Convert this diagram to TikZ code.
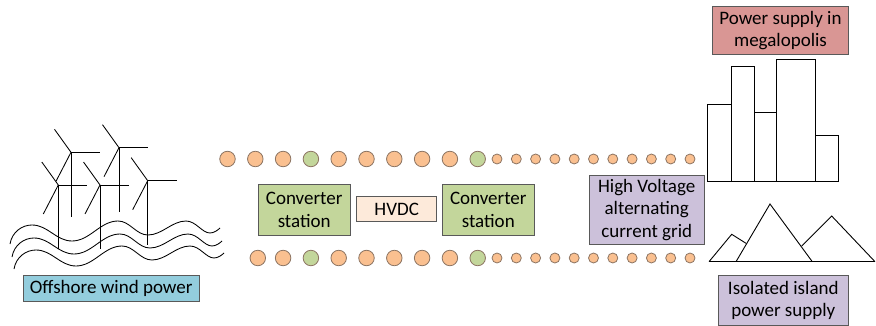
\documentclass[tikz,border=0pt]{standalone}
\usepackage{fontspec}
\setmainfont{Carlito}
\definecolor{aquabox}{HTML}{93CDDD}
\definecolor{olivebox}{HTML}{C3D69B}
\definecolor{peachbox}{HTML}{FDEADA}
\definecolor{lilacbox}{HTML}{CCC1DA}
\definecolor{rosebox}{HTML}{D99694}
\definecolor{dotorange}{HTML}{FAC090}
\definecolor{dotrim}{HTML}{8C7462}
\definecolor{boxrim}{HTML}{595959}
\tikzset{
  label box/.style={draw=boxrim, line width=0.9pt, inner sep=0pt, align=center,
    font=\fontsize{19}{22.5}\selectfont},
  dc dot/.style={circle, draw=dotrim, line width=0.8pt, fill=dotorange, minimum size=15.5pt, inner sep=0pt},
  station dot/.style={dc dot, fill=olivebox},
  ac dot/.style={dc dot, minimum size=10pt},
  sketch/.style={line width=0.85pt, black},
  outline/.style={line width=0.9pt, black},
}
% wind turbine: hub position and lower end of the tower
\newcommand{\windturbine}[3]{%
  \draw[sketch] (#1,#2) -- ++(-16.5,-23);
  \draw[sketch] (#1,#2) -- ++(29,0);
  \draw[sketch] (#1,#2) -- ++(-15,29);
  \draw[sketch] (#1,#2) -- (#1,#3);
}
% one sea wave, shifted by (#1,#2)
\newcommand{\seawave}[2]{%
  \draw[sketch, shift={(#1,#2)}]
    (10,244) .. controls (12,232) and (22,225) .. (32,225)
    .. controls (48,225) and (56,241) .. (72,241)
    .. controls (90,241) and (100,221) .. (118,221)
    .. controls (130,221) and (136,235) .. (148,235)
    .. controls (162,235) and (172,221) .. (186,221)
    .. controls (196,221) and (202,233) .. (210,233)
    .. controls (214,233) and (218,230) .. (220,228);
}
\begin{document}
\begin{tikzpicture}[x=1pt,y=-1pt]
\useasboundingbox (0,0) rectangle (876,326);

% offshore wind farm
\windturbine{71}{152.3}{216.7}
\windturbine{119}{147.7}{211.7}
\windturbine{58.3}{185}{249.3}
\windturbine{100}{185}{249.3}
\windturbine{147.7}{180.7}{245}
\seawave{0}{0}
\seawave{2}{13}
\seawave{4}{25}
\node[label box, fill=aquabox, minimum width=175.7pt, minimum height=26pt]
  (offshore) at (111.2,288.7) {Offshore wind power};

% DC transmission lines
\foreach \i in {0,...,9} {
  \pgfmathsetmacro{\xx}{227.5+27.8*\i}
  \ifnum\i=3 \node[station dot] (top\i) at (\xx,159) {};
  \else\ifnum\i=9 \node[station dot] (top\i) at (\xx,159) {};
  \else \node[dc dot] (top\i) at (\xx,159) {};
  \fi\fi
}
\foreach \i in {1,...,9} {
  \pgfmathsetmacro{\xx}{227.5+27.8*\i+(\i==1 ? 2.5 : 0)}
  \ifnum\i=3 \node[station dot] (bot\i) at (\xx,258) {};
  \else\ifnum\i=9 \node[station dot] (bot\i) at (\xx,258) {};
  \else \node[dc dot] (bot\i) at (\xx,258) {};
  \fi\fi
}
% AC transmission lines
\foreach \i in {0,...,10} {
  \pgfmathsetmacro{\xx}{497+19.3*\i}
  \node[ac dot] (actop\i) at (\xx,159) {};
  \node[ac dot] (acbot\i) at (\xx,258) {};
}

\node[label box, fill=olivebox, minimum width=91.7pt, minimum height=50.7pt]
  (conv1) at (304.2,209.7) {Converter\\station};
\node[label box, fill=peachbox, minimum width=80pt, minimum height=25pt]
  (hvdc) at (396.7,209.2) {HVDC};
\node[label box, fill=olivebox, minimum width=92pt, minimum height=50.7pt]
  (conv2) at (488.3,209.7) {Converter\\station};
\node[label box, fill=lilacbox, minimum width=114.7pt, minimum height=68.3pt]
  (hvac) at (646.7,209.8) {High Voltage\\alternating\\current grid};

% megalopolis skyline
\draw[outline] (707.3,181) rectangle (731,104.3);
\draw[outline] (731,181) rectangle (754,66);
\draw[outline] (754,181) rectangle (776.7,112.3);
\draw[outline] (776.7,181) rectangle (815.3,59);
\draw[outline] (815.3,181) rectangle (838.3,135.3);
\node[label box, fill=rosebox, minimum width=135.6pt, minimum height=47.3pt]
  (city) at (780.5,30.5) {Power supply in\\megalopolis};

% island mountains
\draw[outline, line join=miter] (709,261.7) -- (731.7,234.3) -- (746,243.3);
\draw[outline, line join=miter] (736,261.7) -- (770,204) -- (812.3,261.7);
\draw[outline, line join=miter] (801.7,246) -- (831.7,216) -- (875,261.7);
\draw[outline] (709,261.7) -- (875,261.7);
\node[label box, fill=lilacbox, minimum width=130pt, minimum height=49.3pt]
  (island) at (783.3,300.3) {Isolated island\\power supply};
\end{tikzpicture}
\end{document}
